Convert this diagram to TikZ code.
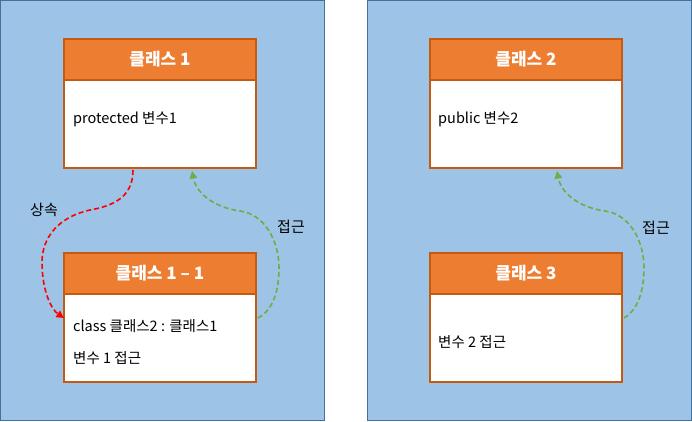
\documentclass[tikz,border=0pt]{standalone}
\usepackage{fontspec}
\setmainfont{Noto Sans CJK KR}
\usetikzlibrary{arrows.meta,calc}
\definecolor{panelfill}{HTML}{9DC3E6}
\definecolor{panelline}{HTML}{41719C}
\definecolor{hdrfill}{HTML}{ED7D31}
\definecolor{hdrline}{HTML}{C55A11}
\definecolor{accgreen}{HTML}{70AD47}
\definecolor{inhred}{HTML}{FF0000}
\begin{document}
\begin{tikzpicture}[x=1pt,y=-1pt,
  panel/.style={draw=panelline,fill=panelfill,line width=1pt},
  hdr/.style={draw=hdrline,fill=hdrfill,line width=2pt,minimum width=192pt,minimum height=41pt,inner sep=0pt,text=white,font=\fontsize{17}{19}\selectfont\bfseries,anchor=north west},
  bodybox/.style={draw=hdrline,fill=white,line width=2pt,minimum width=192pt,minimum height=88pt,inner sep=0pt,anchor=north west},
  txt/.style={anchor=west,inner sep=0pt,font=\fontsize{14.5}{17}\selectfont},
  lbl/.style={inner sep=0pt,font=\fontsize{15}{17}\selectfont},
  conn/.style={line width=1.6pt,dash pattern=on 5pt off 3pt,-{Triangle[length=7.5pt,width=7.5pt]}},
  inh/.style={conn,draw=inhred,color=inhred},
  acc/.style={conn,draw=accgreen,color=accgreen}]
\useasboundingbox (0,0) rectangle (692,421);
\draw[panel] (0.5,0.5) rectangle (324,420);
\draw[panel] (367,0.5) rectangle (691,420);
% class 1
\node[bodybox] (c1b) at (63,79) {};
\node[hdr] (c1h) at (63,38) {클래스 1};
\node[txt] (c1t) at (73,119) {protected 변수1};
% class 1-1
\node[bodybox] (c11b) at (63,293) {};
\node[hdr] (c11h) at (63,252) {클래스 1 – 1};
\node[txt] (c11t) at (73,326) {class 클래스2 : 클래스1};
\node[txt] (c11u) at (73,358) {변수 1 접근};
% class 2
\node[bodybox] (c2b) at (429,79) {};
\node[hdr] (c2h) at (429,38) {클래스 2};
\node[txt] (c2t) at (438,119) {public 변수2};
% class 3
\node[bodybox] (c3b) at (429,293) {};
\node[hdr] (c3h) at (429,252) {클래스 3};
\node[txt] (c3t) at (438,342) {변수 2 접근};
% labels
\node[lbl] (l1) at (44,210) {상속};
\node[lbl] (l2) at (291,227) {접근};
\node[lbl] (l3) at (656,228) {접근};
% connectors
\draw[inh] ($(c1b.south west)+(70,1)$) .. controls (133,198) and (112,206) .. (90,210)
  .. controls (58,217) and (42,238) .. (42,262) .. controls (42,292) and (52,310) .. ($(c11b.west)+(1,-20)$);
\draw[acc] ($(c11b.east)+(1,-20)$) .. controls (270,312) and (279,296) .. (279,268)
  .. controls (279,240) and (264,214) .. (240,211) .. controls (212,207) and (196,192) .. ($(c1b.south west)+(129,2)$);
\draw[acc] ($(c3b.east)+(1,-20)$) .. controls (635,312) and (644,296) .. (644,268)
  .. controls (644,240) and (629,214) .. (605,211) .. controls (577,207) and (561,192) .. ($(c2b.south west)+(128,2)$);
\end{tikzpicture}
\end{document}
